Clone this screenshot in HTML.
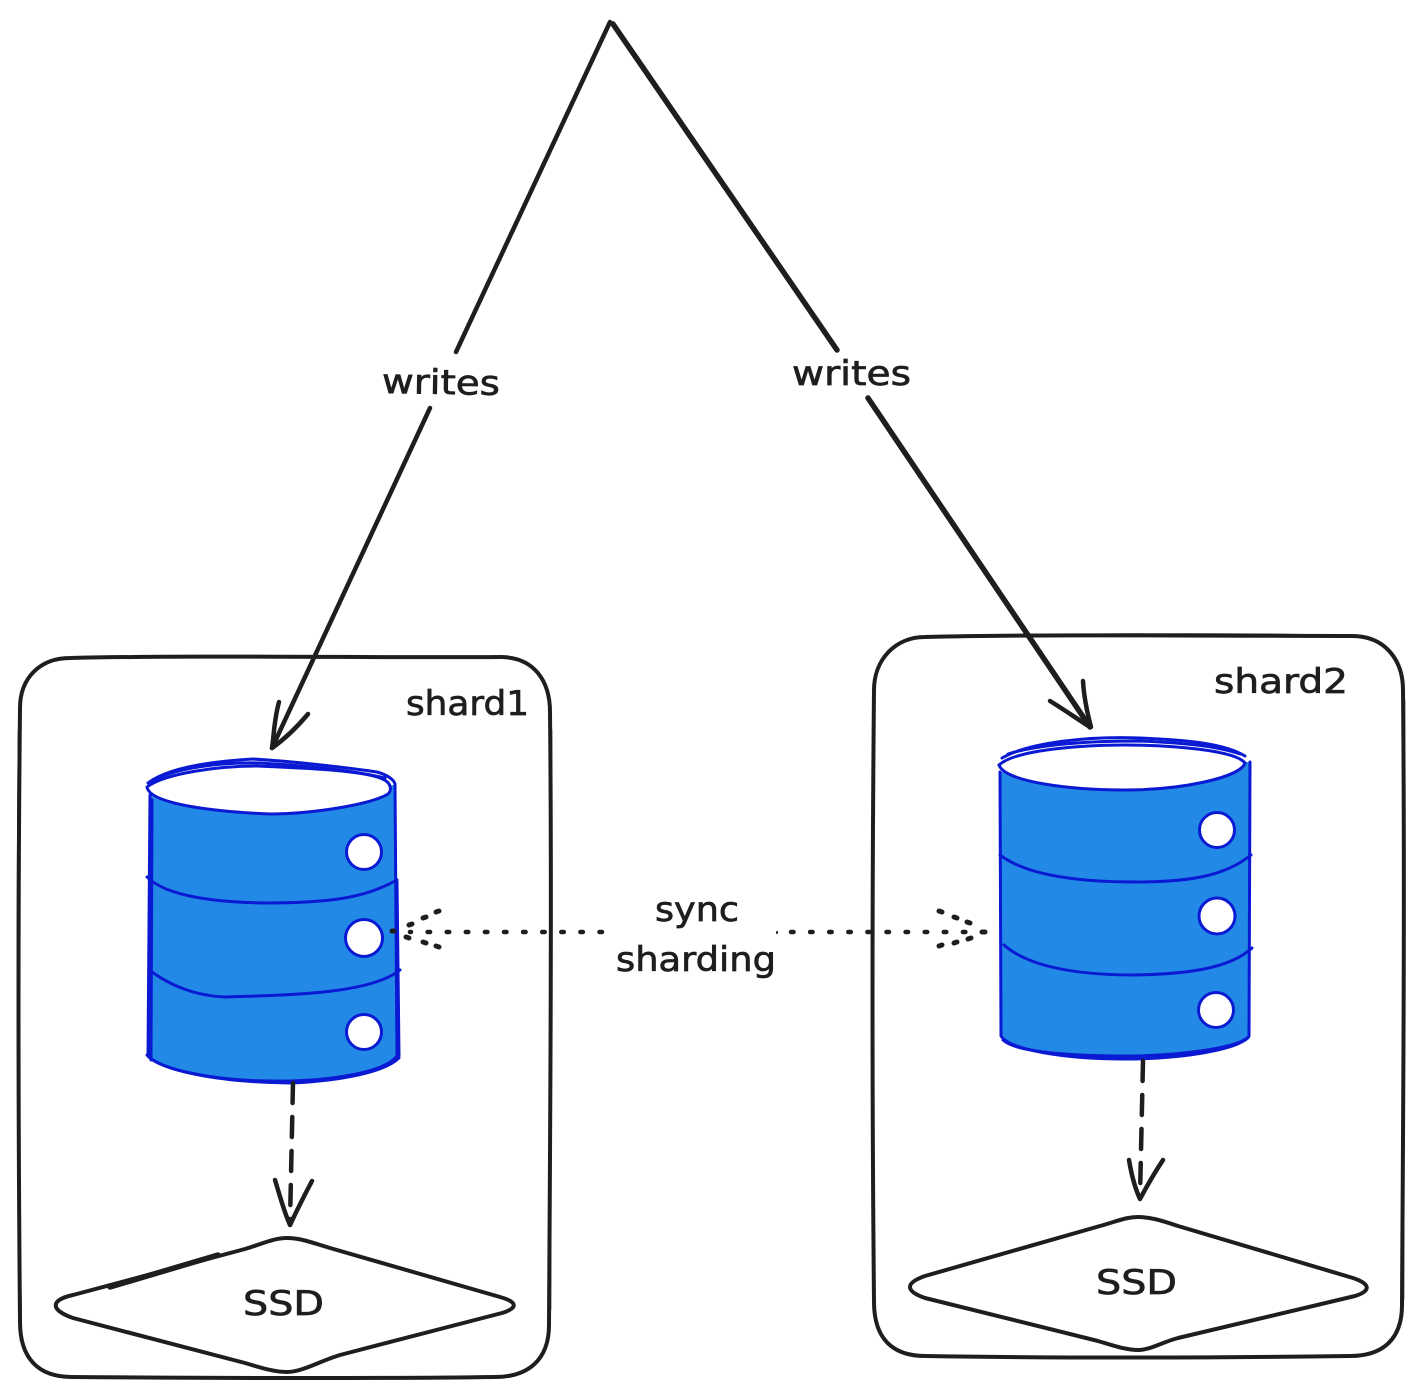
<!DOCTYPE html>
<html>
<head>
<meta charset="utf-8">
<style>
html,body{margin:0;padding:0;background:#fff;width:1422px;height:1398px;overflow:hidden}
svg{display:block}
text{font-family:"DejaVu Sans","Liberation Sans",sans-serif;fill:#1e1e1e;font-size:34px;stroke:#1e1e1e;stroke-width:.7}
.k{fill:none;stroke:#1e1e1e;stroke-linecap:round;stroke-linejoin:round}
.b{fill:none;stroke:#0a19d2;stroke-width:3;stroke-linecap:round;stroke-linejoin:round}
.c{fill:#fff;stroke:#0a19d2;stroke-width:3}
</style>
</head>
<body>
<svg width="1422" height="1398" viewBox="0 0 1422 1398" xmlns="http://www.w3.org/2000/svg">
<rect width="1422" height="1398" fill="#fff"/>

<!-- containers -->
<path class="k" stroke-width="4" d="M70 658 C200 655 380 658 500 657 C535 657 550 682 550 712 C552 900 550 1150 549 1325 C549 1360 528 1377 495 1377 C350 1379 200 1378 72 1377 C38 1377 20 1358 20 1322 C18 1100 18 900 20 708 C20 678 40 658 70 658Z"/>
<path class="k" stroke-width="2.5" d="M19 730 C17 950 18 1150 21 1340 M140 1378 C250 1378 380 1378 490 1377 M551 730 C552 900 552 1100 550 1310"/>
<path class="k" stroke-width="4" d="M925 637 C1050 634 1230 636 1352 636 C1385 636 1403 660 1403 690 C1405 900 1403 1130 1402 1305 C1402 1340 1382 1356 1350 1356 C1200 1358 1050 1358 925 1356 C892 1356 874 1338 874 1302 C872 1100 872 900 874 690 C874 660 895 637 925 637Z"/>
<path class="k" stroke-width="2.5" d="M960 636 C1130 634 1260 634 1350 636 M960 1357 C1130 1358 1260 1358 1350 1356 M1404 700 C1405 950 1404 1130 1403 1300"/>

<!-- write arrows -->
<path class="k" stroke-width="4.5" d="M610 22 L456 352 M430 408 L272 748"/>
<path class="k" stroke-width="4.5" d="M272 748 C274 735 274 720 279 702 M272 748 C286 738 298 726 308 714"/>
<path class="k" stroke-width="5.5" d="M613 24 L837 350 M868 398 L1090 727"/>
<path class="k" stroke-width="4.5" d="M1091 727 C1087 712 1084 698 1083 681 M1090 727 C1076 718 1063 709 1050 701"/>

<!-- cylinder 1 -->
<path d="M149 795 L396 785 L399 1056 C385 1072 330 1082 272 1082 C210 1081 160 1072 148 1055Z" fill="#228ae6"/>
<path class="b" d="M150 795 L148 1056 C158 1068 210 1081 272 1081 C330 1082 385 1072 397 1056 L395 785"/>
<path class="b" d="M152 800 L151 1060 M399 1056 L397 880 M147 1055 C160 1070 215 1082 290 1083 C340 1081 385 1072 399 1058"/>
<path class="b" d="M147 877 C165 895 210 902 263 903 C330 903 365 898 397 880"/>
<path class="b" d="M152 972 C170 985 195 996 225 997 C290 995 370 994 400 970"/>
<path d="M147 787 C165 773 220 766 257 766 C300 768 360 770 380 778 C392 782 392 790 388 794 C370 805 310 814 270 814 C220 812 150 805 147 787Z" fill="#fff" stroke="#0a19d2" stroke-width="3"/>
<path class="b" d="M148 783 C165 770 200 762 253 759 C300 762 350 768 377 772 C388 775 394 780 395 784"/>
<path class="b" d="M152 781 C175 768 220 762 260 763 C310 766 350 770 385 778"/>
<circle class="c" cx="364" cy="852" r="17.5"/>
<circle class="c" cx="364" cy="938" r="18.5"/>
<circle class="c" cx="364" cy="1032" r="17.5"/>

<!-- cylinder 2 -->
<path d="M1000 772 L1250 762 L1250 1038 C1240 1050 1180 1059 1125 1059 C1065 1059 1010 1050 1001 1036Z" fill="#228ae6"/>
<path class="b" d="M1000 772 L1001 1036 C1010 1050 1065 1059 1125 1059 C1180 1059 1240 1050 1249 1036 L1250 762"/>
<path class="b" d="M1003 1040 C1015 1052 1070 1056 1125 1056 C1180 1056 1235 1048 1247 1038"/>
<path class="b" d="M1000 855 C1030 878 1090 882 1135 882 C1190 882 1225 876 1251 855"/>
<path class="b" d="M1004 945 C1030 968 1080 975 1135 975 C1190 974 1230 968 1252 948"/>
<path d="M999 765 C1015 750 1080 745 1125 745 C1170 745 1235 750 1245 763 C1240 778 1180 790 1125 790 C1070 790 1005 782 999 765Z" fill="#fff" stroke="#0a19d2" stroke-width="3"/>
<path class="b" d="M1002 758 C1030 742 1090 736 1140 738 C1190 740 1225 744 1245 756"/>
<path class="b" d="M1008 754 C1040 744 1090 741 1140 741 C1190 743 1220 747 1240 754"/>
<circle class="c" cx="1217" cy="830" r="17.5"/>
<circle class="c" cx="1217" cy="916" r="18"/>
<circle class="c" cx="1216" cy="1010" r="17.5"/>

<!-- dashed arrows -->
<path class="k" stroke-width="4.5" stroke-dasharray="20 14" d="M293 1083 L290 1222"/>
<path class="k" stroke-width="4.5" d="M290 1225 C284 1212 280 1196 275 1180 M290 1225 C298 1208 304 1196 312 1181"/>
<path class="k" stroke-width="4.5" stroke-dasharray="20 14" d="M1143 1061 L1140 1196"/>
<path class="k" stroke-width="4.5" d="M1140 1199 C1134 1186 1131 1172 1129 1160 M1140 1199 C1148 1184 1155 1172 1163 1160"/>

<!-- dotted arrows -->
<path class="k" stroke-width="4.5" stroke-dasharray="2.5 16.6" d="M602 932 L410 932"/>
<path class="k" stroke-width="5" d="M392 931 h2 M409 925 l3 -1 M406 937 l3 1 M423 918 l3 -1 M423 942 l3 1 M436 912 l3 -1 M436 946 l3 1"/>
<path class="k" stroke-width="4.5" stroke-dasharray="2.5 16.6" d="M791 932 L968 932"/>
<path class="k" stroke-width="2" d="M777 932 v1"/>
<path class="k" stroke-width="5" d="M982 932 h3 M939 911 l3 1 M954 917 l3 1 M967 922 l3 1 M939 946 l3 -1 M954 943 l3 -1 M968 939 l3 -1"/>

<!-- diamonds -->
<path class="k" stroke-width="4" style="fill:#fff" d="M73 1295 L245 1249 C262 1244 273 1238 287 1238 C301 1238 313 1243 330 1248 L500 1297 C518 1302 518 1308 502 1313 L340 1355 C320 1361 302 1372 287 1372 C274 1372 262 1368 245 1363 L73 1318 C50 1310 50 1300 73 1295Z"/>
<path class="k" stroke-width="5.5" d="M110 1287 L218 1255"/>
<path class="k" stroke-width="4" style="fill:#fff" d="M925 1276 L1100 1226 C1118 1221 1126 1217 1138 1217 C1150 1217 1160 1220 1178 1226 L1353 1278 C1371 1284 1371 1291 1355 1296 L1178 1338 C1160 1343 1150 1350 1138 1350 C1126 1350 1115 1346 1098 1341 L925 1298 C905 1291 905 1283 925 1276Z"/>

<!-- labels -->
<text x="382" y="394" textLength="118" lengthAdjust="spacingAndGlyphs" transform="rotate(1 441 381)">writes</text>
<text x="792" y="385" textLength="119" lengthAdjust="spacingAndGlyphs">writes</text>
<text x="406" y="715" textLength="123" lengthAdjust="spacingAndGlyphs">shard1</text>
<text x="1214" y="693" textLength="134" lengthAdjust="spacingAndGlyphs">shard2</text>
<text x="655" y="921" textLength="84" lengthAdjust="spacingAndGlyphs">sync</text>
<text x="616" y="971" textLength="160" lengthAdjust="spacingAndGlyphs">sharding</text>
<text x="243" y="1315" textLength="81" lengthAdjust="spacingAndGlyphs">SSD</text>
<text x="1096" y="1294" textLength="81" lengthAdjust="spacingAndGlyphs">SSD</text>
</svg>
</body>
</html>
